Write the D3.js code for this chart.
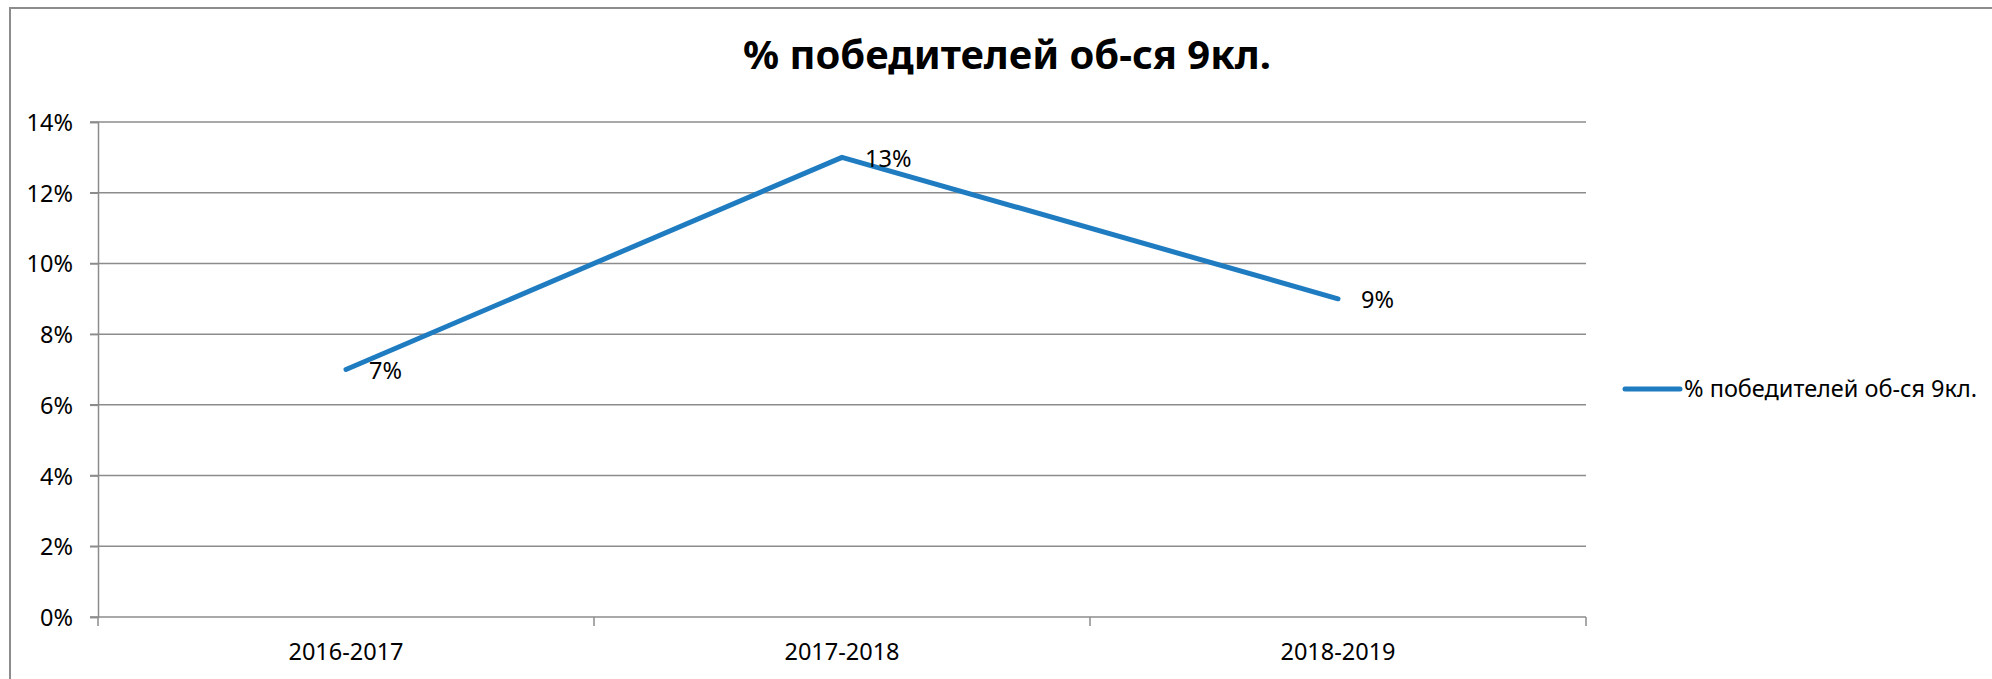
<!DOCTYPE html>
<html>
<head>
<meta charset="utf-8">
<script src="https://cdn.jsdelivr.net/npm/d3@7"></script>
<style>
  body { margin: 0; background: #fff; }
  text { font-family: "Noto Sans", "Open Sans", sans-serif; fill: #000; }
</style>
</head>
<body>
<svg id="chart" width="1992" height="679"></svg>
<script>
var years = ['2016-2017', '2017-2018', '2018-2019']
var winners = [0.07, 0.13, 0.09]
var yTicks = [0, 0.02, 0.04, 0.06, 0.08, 0.10, 0.12, 0.14]
var seriesName = '% победителей об-ся 9кл.'
var title = '% победителей об-ся 9кл.'

var svg = d3.select('#chart')
var lineColor = '#1f7cc1'
var gridColor = '#8c8c8c'
var fontSize = '23.5px'

// chart frame (runs off the right and bottom of the picture)
svg.append('rect')
  .attr('x', 10).attr('y', 8)
  .attr('width', 2100).attr('height', 800)
  .attr('fill', 'none')
  .attr('stroke', gridColor)
  .attr('stroke-width', 2)

// plot area (window.top is taken, so other names)
var plotLeft = 98, plotRight = 1586, plotTop = 122, plotBottom = 617

var x = d3.scaleBand().domain(years).range([plotLeft, plotRight])
var y = d3.scaleLinear().domain([0, 0.14]).range([plotBottom, plotTop])

// horizontal grid lines
svg.append('g').selectAll('line')
  .data(yTicks)
  .join('line')
  .attr('x1', plotLeft - 8).attr('x2', plotRight)
  .attr('y1', d => y(d)).attr('y2', d => y(d))
  .attr('stroke', gridColor)
  .attr('stroke-width', 1.5)

// y axis
var yAxis = svg.append('g')
  .attr('transform', `translate(${plotLeft},0)`)
  .call(d3.axisLeft(y).tickValues(yTicks).tickFormat(d3.format('.0%')).tickSize(8).tickPadding(17))
yAxis.select('.domain').attr('stroke', gridColor).attr('stroke-width', 1.5)
yAxis.selectAll('.tick line').attr('stroke', gridColor).attr('stroke-width', 1.5)
yAxis.selectAll('text').style('font-size', fontSize).attr('fill', '#000').attr('dy', '0.36em')

// x axis, ticks between the categories
var xAxis = svg.append('g')
  .attr('transform', `translate(0,${plotBottom})`)
  .call(d3.axisBottom(x).tickSize(0).tickPadding(26))
xAxis.select('.domain').remove()
xAxis.selectAll('text').style('font-size', fontSize).attr('fill', '#000')
var bounds = [plotLeft].concat(years.map(d => x(d) + x.bandwidth()))
svg.append('g').selectAll('line')
  .data(bounds)
  .join('line')
  .attr('x1', d => d).attr('x2', d => d)
  .attr('y1', plotBottom).attr('y2', plotBottom + 9)
  .attr('stroke', gridColor)
  .attr('stroke-width', 1.5)

// the line
var line = d3.line()
  .x((d, i) => x(years[i]) + x.bandwidth() / 2)
  .y(d => y(d))
svg.append('path')
  .datum(winners)
  .attr('d', line)
  .attr('fill', 'none')
  .attr('stroke', lineColor)
  .attr('stroke-width', 5)
  .attr('stroke-linecap', 'round')
  .attr('stroke-linejoin', 'round')

// data labels, right of each point
svg.append('g').selectAll('text')
  .data(winners)
  .join('text')
  .attr('x', (d, i) => x(years[i]) + x.bandwidth() / 2 + 23)
  .attr('y', d => y(d) + 1)
  .attr('dy', '0.36em')
  .style('font-size', fontSize)
  .text(d => d3.format('.0%')(d))

// legend
var legend = svg.append('g').attr('transform', 'translate(1625,389)')
legend.append('line')
  .attr('x1', 0).attr('x2', 55)
  .attr('stroke', lineColor)
  .attr('stroke-width', 5)
  .attr('stroke-linecap', 'round')
legend.append('text')
  .attr('x', 59)
  .attr('dy', '0.36em')
  .style('font-size', fontSize)
  .text(seriesName)

// title
svg.append('text')
  .attr('x', 1007)
  .attr('y', 69)
  .attr('text-anchor', 'middle')
  .style('font-size', '40px')
  .style('font-weight', 'bold')
  .text(title)
</script>
</body>
</html>
